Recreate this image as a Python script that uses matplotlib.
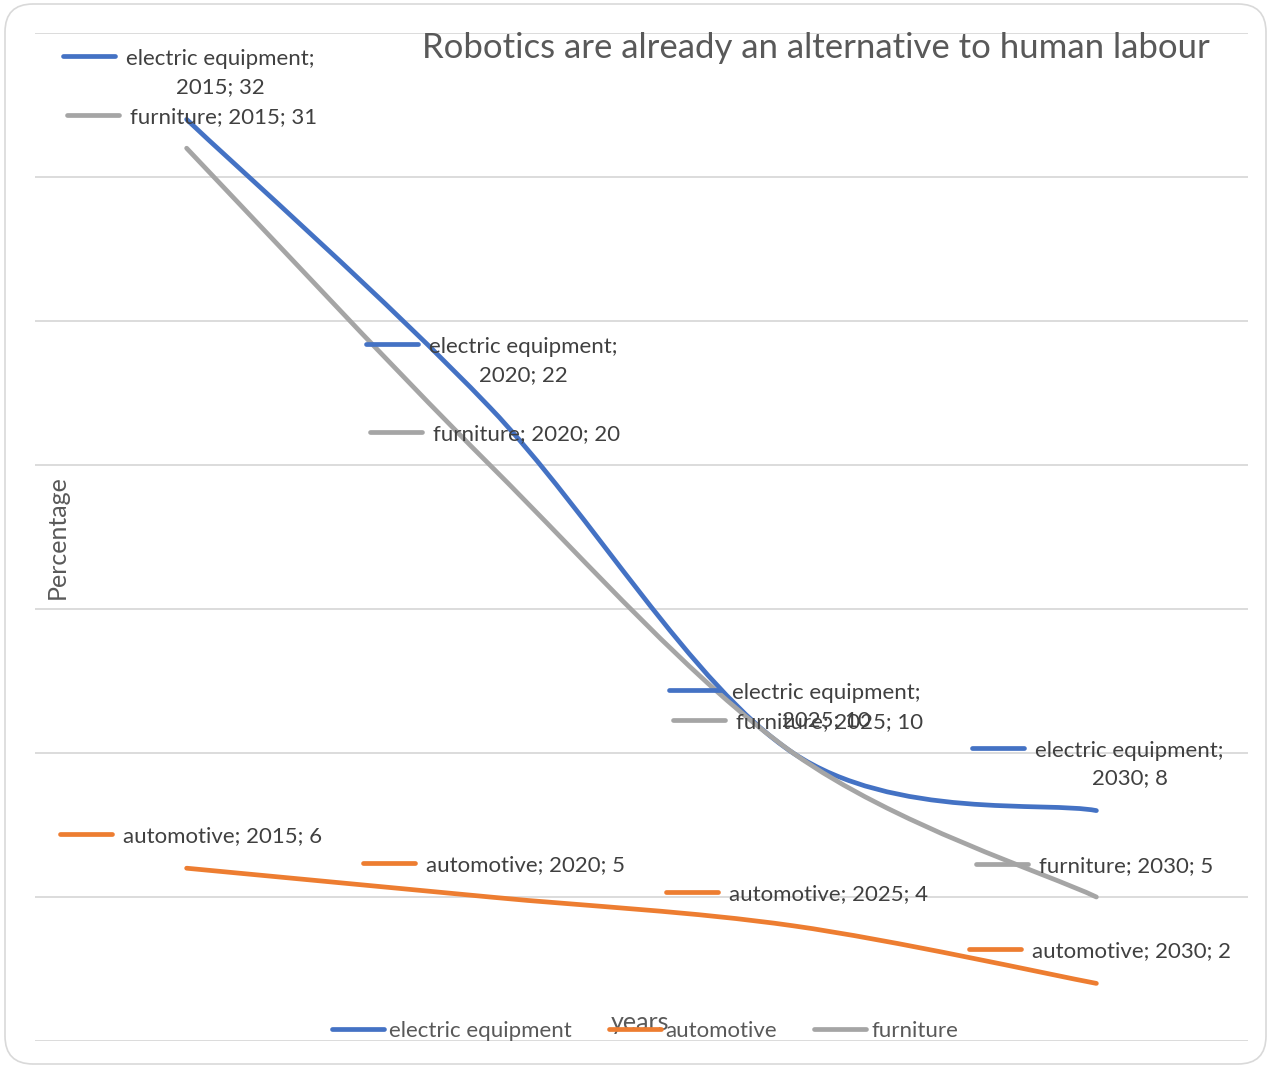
import matplotlib
matplotlib.use('Agg')
from matplotlib import pyplot
from matplotlib.path import Path
from matplotlib.patches import PathPatch, FancyBboxPatch
from matplotlib.lines import Line2D
from matplotlib.transforms import IdentityTransform

# data
years = ['2015', '2020', '2025', '2030']
electric = [32, 22, 10, 8]
automotive = [6, 5, 4, 2]
furniture = [31, 20, 10, 5]
series_names = ['electric equipment', 'automotive', 'furniture']
series_colors = ['#4472C4', '#ED7D31', '#A5A5A5']

pyplot.rcParams['font.family'] = ['Lato', 'DejaVu Sans']
TEXT = '#404040'
GREY = '#595959'
LABEL_SIZE = 16
AXIS_SIZE = 18


# -----------------------------------------------------------------------------
def smooth_path(xs, ys):
    """ Excel-like smoothed line as cubic bezier segments """
    n = len(xs)
    verts = [(xs[0], ys[0])]
    codes = [Path.MOVETO]
    for i in range(n - 1):
        i0 = max(i - 1, 0)
        i2 = min(i + 2, n - 1)
        c1 = (xs[i] + (xs[i+1] - xs[i0]) / 6.0, ys[i] + (ys[i+1] - ys[i0]) / 6.0)
        c2 = (xs[i+1] - (xs[i2] - xs[i]) / 6.0, ys[i+1] - (ys[i2] - ys[i]) / 6.0)
        verts += [c1, c2, (xs[i+1], ys[i+1])]
        codes += [Path.CURVE4] * 3
    return Path(verts, codes)


# -----------------------------------------------------------------------------
def data_label(fig, ax, x, y, text, color, dx, dy, text_dy=0):
    """ label with a legend key, placed in pixels relative to the point """
    px, py = ax.transData.transform((x, y))
    kx, ky = px + dx, py + dy
    fig.add_artist(Line2D([kx, kx + 52], [ky, ky], transform=IdentityTransform(),
                          color=color, lw=3.4, solid_capstyle='round'))
    fig.text(kx + 63, ky + text_dy, text, transform=IdentityTransform(), color=TEXT,
             fontsize=LABEL_SIZE, ha='left', va='center_baseline',
             multialignment='center', linespacing=1.45)


# -----------------------------------------------------------------------------
fig = pyplot.figure(figsize=(12.71, 10.67), dpi=100, facecolor='w')
ax = fig.add_axes([35 / 1271, 26 / 1067, 1213 / 1271, 1008 / 1067])
ax.set_xlim(-0.5, len(years) - 0.5)
ax.set_ylim(0, 35)
ax.set_yticks(range(0, 36, 5))
ax.set_xticks([])
ax.tick_params(left=False, labelleft=False)
ax.grid(axis='y', color='#d9d9d9', lw=1.3)
ax.set_axisbelow(True)
for s in ax.spines.values():
    s.set_visible(False)

xs = list(range(len(years)))
all_series = [electric, automotive, furniture]
for name, vals, col in zip(series_names, all_series, series_colors):
    ax.add_patch(PathPatch(smooth_path(xs, vals), fill=False, edgecolor=col,
                           lw=3.4, capstyle='round', joinstyle='round'))
    ax.plot([], [], color=col, lw=3.4, solid_capstyle='round', label=name)

# data labels
for i, yr in enumerate(years):
    data_label(fig, ax, i, electric[i], 'electric equipment;\n%s; %d' % (yr, electric[i]),
               series_colors[0], -124, 63, text_dy=-11)
    data_label(fig, ax, i, furniture[i], 'furniture; %s; %d' % (yr, furniture[i]),
               series_colors[2], -120, 33)
    data_label(fig, ax, i, automotive[i], 'automotive; %s; %d' % (yr, automotive[i]),
               series_colors[1], -127, 34)

ax.set_xlabel('years', color=GREY, fontsize=AXIS_SIZE, va='center')
ax.xaxis.set_label_coords((640 - 35) / 1213, (1041 - 1022) / 1008)
ax.set_ylabel('Percentage', color=GREY, fontsize=AXIS_SIZE, va='center')
ax.yaxis.set_label_coords((57 - 35) / 1213, (1041 - 537) / 1008)

ax.legend(loc='center', bbox_to_anchor=(645 / 1271, 36 / 1067), bbox_transform=fig.transFigure,
          ncol=3, frameon=False, fontsize=LABEL_SIZE, labelcolor=GREY, handlelength=2.34,
          handletextpad=0.23, columnspacing=1.67, borderpad=0)

fig.text(816 / 1271, 1 - 48 / 1067, 'Robotics are already an alternative to human labour',
         color=GREY, fontsize=25, ha='center', va='center')

fig.add_artist(FancyBboxPatch((5, 3), 1261, 1060, boxstyle='round,pad=0,rounding_size=28',
                              transform=IdentityTransform(), fill=False,
                              edgecolor='#d9d9d9', lw=1.2))

fig.savefig('out.png', dpi=100)
